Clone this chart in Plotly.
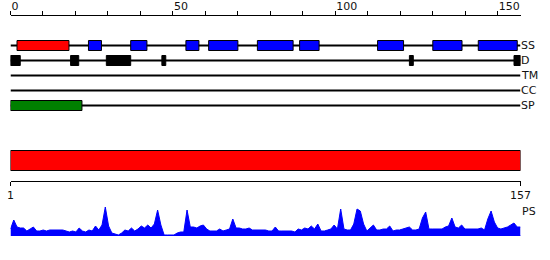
import plotly.graph_objects as go

# ---------------- data ----------------
seq_len = 157
track_names = ["SS", "D", "TM", "CC", "SP"]

ss_helix = [(2, 18)]
ss_strand = [(24, 28), (37, 42), (54, 58), (61, 70), (76, 87), (89, 95),
             (113, 121), (130, 139), (144, 156)]
disorder = [(0, 3), (18.5, 21), (29.5, 37), (46.6, 47.8), (122.8, 124), (155, 157)]
tm_segments = []
cc_segments = []
sp_segments = [(0, 22)]

domain_segments = [(1, 157)]  # red domain bar

ps_residues = list(range(1, seq_len + 1))
ps_values = [
    7, 16, 9, 8, 8, 5, 7, 9, 5, 5, 6, 5, 6, 6, 6, 6, 6, 5, 4, 5,
    4, 8, 5, 4, 6, 5, 10, 6, 11, 29, 10, 3, 2, 1, 3, 6, 5, 8, 5, 7,
    10, 8, 11, 8, 12, 26, 11, 1, 1, 1, 1, 3, 4, 4, 26, 9, 9, 8, 10, 11,
    7, 5, 5, 5, 7, 5, 6, 7, 17, 8, 8, 7, 7, 8, 6, 6, 6, 6, 6, 5,
    5, 9, 5, 5, 5, 5, 5, 4, 7, 6, 8, 7, 10, 7, 12, 5, 5, 6, 7, 11,
    7, 27, 7, 6, 6, 12, 27, 25, 12, 5, 8, 11, 6, 6, 7, 7, 10, 5, 6, 6,
    7, 8, 9, 6, 6, 7, 18, 24, 7, 7, 7, 7, 7, 9, 10, 18, 9, 8, 11, 7,
    7, 7, 7, 7, 8, 6, 17, 25, 14, 8, 7, 8, 9, 11, 13, 9, 9,
]
ps_tail_end = 162

bottom_ticks = [1, seq_len]
top_ticks = [0, 50, 100, 150]

# ---------------- layout constants ----------------
W, H = 550, 260
FONT = "DejaVu Sans"
xdom = [10.5 / W, 520.5 / W]
ROW_PX = 15.0
BOX_PX = 10.0
TOP_PX = 15.5
row_y = {n: i for i, n in enumerate(track_names)}
y_top, y_bot = -2.0, 4.5
box_w = BOX_PX / ROW_PX
line_w = 1.0 / ROW_PX


def yfrac(px):
    return 1 - px / H


fig = go.Figure()


def add_boxes(segs, row, color, line_color="black", lw=1, width=box_w):
    if not segs:
        return
    fig.add_trace(go.Bar(
        orientation="h",
        base=[s for s, e in segs],
        x=[e - s for s, e in segs],
        y=[row_y[row]] * len(segs),
        width=width,
        marker=dict(color=color, line=dict(color=line_color, width=lw)),
        xaxis="x", yaxis="y", showlegend=False, hoverinfo="skip",
    ))


# baseline lines of each track (drawn first, beneath boxes)
for name in track_names:
    add_boxes([(0, seq_len)], name, "black", lw=0, width=line_w)

add_boxes(ss_helix, "SS", "#ff0000")
add_boxes(ss_strand, "SS", "#0000ff")
add_boxes(disorder, "D", "black")
add_boxes(tm_segments, "TM", "#ff8c00")
add_boxes(cc_segments, "CC", "#800080")
add_boxes(sp_segments, "SP", "#008000")

# domain bar
fig.add_trace(go.Bar(
    orientation="h",
    base=[s for s, e in domain_segments],
    x=[e - s for s, e in domain_segments],
    y=[20] * len(domain_segments),
    width=20,
    marker=dict(color="#ff0000", line=dict(color="black", width=1)),
    xaxis="x2", yaxis="y2", showlegend=False, hoverinfo="skip",
))

# PS profile
fig.add_trace(go.Scatter(
    x=ps_residues, y=ps_values, mode="lines", fill="tozeroy",
    line=dict(color="#0000ff", width=1), fillcolor="#0000ff",
    xaxis="x3", yaxis="y3", showlegend=False, hoverinfo="skip",
))
fig.add_trace(go.Scatter(
    x=[seq_len, ps_tail_end], y=[0.5, 0.5], mode="lines",
    line=dict(color="#0000ff", width=1), cliponaxis=False,
    xaxis="x3", yaxis="y3", showlegend=False, hoverinfo="skip",
))

annotations = []
for name in track_names:
    annotations.append(dict(
        x=seq_len, y=row_y[name], xref="x", yref="y", text=name,
        showarrow=False, xanchor="left", yanchor="middle", xshift=-2,
        font=dict(family=FONT, size=11, color="#111"),
    ))
annotations.append(dict(
    x=seq_len, y=yfrac(211), xref="x2", yref="paper", text="PS",
    showarrow=False, xanchor="left", yanchor="middle", xshift=-1,
    font=dict(family=FONT, size=11, color="#111"),
))

fig.update_layout(
    width=W, height=H,
    margin=dict(l=0, r=0, t=0, b=0, autoexpand=False),
    paper_bgcolor="white", plot_bgcolor="white",
    barmode="overlay",
    showlegend=False,
    annotations=annotations,
    xaxis=dict(
        domain=xdom, range=[0, seq_len], anchor="y", side="top",
        showline=True, linecolor="black", linewidth=1,
        ticks="outside", ticklen=4, tickcolor="black", tickwidth=1,
        tickvals=top_ticks, ticklabelposition="outside right",
        minor=dict(dtick=10, tick0=0, ticks="outside", ticklen=4,
                   tickcolor="black", tickwidth=1, showgrid=False),
        tickfont=dict(family=FONT, size=11, color="#111"),
        showgrid=False, zeroline=False, fixedrange=True, automargin=False,
    ),
    yaxis=dict(
        domain=[yfrac(TOP_PX + (y_bot - y_top) * ROW_PX), yfrac(TOP_PX)],
        range=[y_bot, y_top], visible=False, fixedrange=True,
    ),
    xaxis2=dict(
        domain=xdom, range=[1, seq_len], anchor="y2", side="bottom",
        showline=True, linecolor="black", linewidth=1,
        ticks="outside", ticklen=4, tickcolor="black", tickwidth=1,
        tickvals=bottom_ticks, ticktext=[str(t) for t in bottom_ticks],
        tickfont=dict(family=FONT, size=11, color="#111"),
        showgrid=False, zeroline=False, fixedrange=True, automargin=False,
    ),
    yaxis2=dict(
        domain=[yfrac(180.5), yfrac(140.5)], range=[0, 40],
        visible=False, fixedrange=True,
    ),
    xaxis3=dict(
        domain=xdom, range=[1, seq_len], anchor="y3", visible=False,
        fixedrange=True,
    ),
    yaxis3=dict(
        domain=[yfrac(236), yfrac(200)], range=[0, 36],
        visible=False, fixedrange=True,
    ),
)

fig.write_html("out.html", config={"displayModeBar": False})
